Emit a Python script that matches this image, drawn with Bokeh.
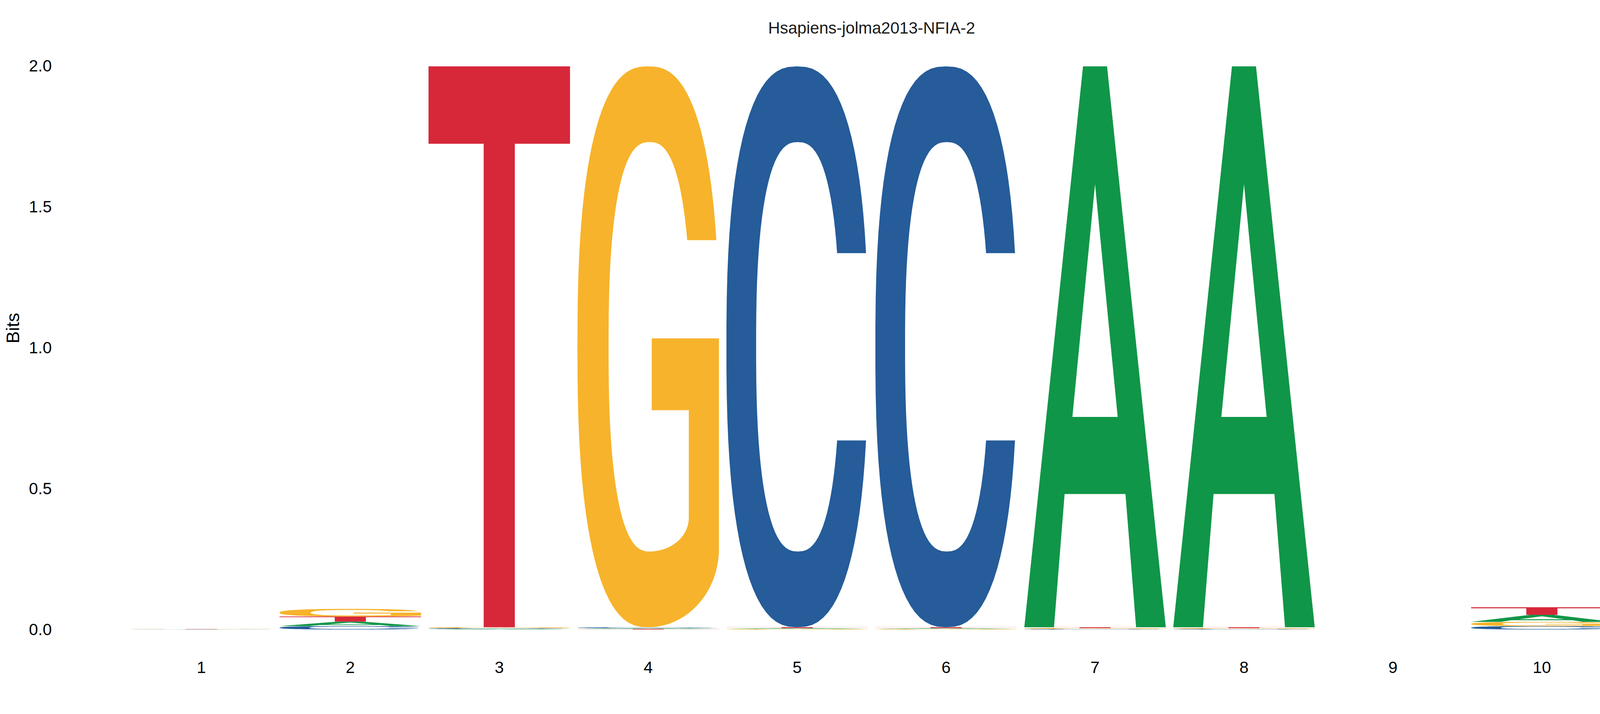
import numpy as np

from bokeh.plotting import figure
from bokeh.models import Range1d, FixedTicker
from bokeh.core.properties import value
from bokeh.embed import file_html
from bokeh.resources import INLINE

# information content (bits) per letter and position
positions = [1, 2, 3, 4, 5, 6, 7, 8, 9, 10]
bits_A = [0.0005, 0.016, 0.002, 0.003, 0.003, 0.003, 1.990, 1.990, 0.0, 0.025]
bits_C = [0.0005, 0.012, 0.003, 0.003, 1.990, 1.990, 0.002, 0.002, 0.0, 0.012]
bits_G = [0.0005, 0.027, 0.003, 1.990, 0.002, 0.002, 0.003, 0.003, 0.0, 0.015]
bits_T = [0.0005, 0.018, 1.990, 0.002, 0.003, 0.003, 0.003, 0.003, 0.0, 0.027]

y_ticks = [0.0, 0.5, 1.0, 1.5, 2.0]
y_tick_labels = ["0.0", "0.5", "1.0", "1.5", "2.0"]
title_text = "Hsapiens-jolma2013-NFIA-2"

colors = {"A": "#109648", "C": "#255C99", "G": "#F7B32B", "T": "#D62839"}
FONT = "Liberation Sans"


# letter outlines in a unit box
def arc(cx, cy, rx, ry, t0, t1, n=2.0, k=80):
    t = np.linspace(t0, t1, k)
    c, s = np.cos(t), np.sin(t)
    x = cx + rx * np.sign(c) * np.abs(c) ** (2 / n)
    y = cy + ry * np.sign(s) * np.abs(s) ** (2 / n)
    return list(x), list(y)


def t_at(cy, ry, yt, n=2.0):
    d = (yt - cy) / ry
    return np.arcsin(np.sign(d) * abs(d) ** (n / 2))


NS = 2.5  # squareness of the round letters


def shape_T():
    xs = [0, 1, 1, 0.61, 0.61, 0.39, 0.39, 0]
    ys = [1, 1, 0.862, 0.862, 0, 0, 0.862, 0.862]
    return [(xs, ys)]


def shape_A():
    xs = [0, 0.21, 0.285, 0.715, 0.79, 1, 0.585, 0.415]
    ys = [0, 0, 0.2375, 0.2375, 0, 0, 1, 1]
    hx = [0.34, 0.66, 0.5]
    hy = [0.375, 0.375, 0.79]
    return [(xs, ys), (hx, hy)]


def shape_C():
    to = t_at(0.5, 0.5, 0.667, NS)
    ox, oy = arc(0.5, 0.5, 0.5, 0.5, to, 2 * np.pi - to, NS)
    ti = t_at(0.5, 0.365, 0.667, NS)
    ix, iy = arc(0.505, 0.5, 0.295, 0.365, 2 * np.pi - ti, ti, NS)
    return [(ox + ix, oy + iy)]


def shape_G():
    to = t_at(0.5, 0.5, 0.69, NS)
    ox, oy = arc(0.5, 0.5, 0.5, 0.5, to, 1.5 * np.pi, NS)
    bx, by = arc(0.5, 0.14, 0.5, 0.14, -0.5 * np.pi, 0, 2.0, 30)
    mx = [1.0, 0.525, 0.525, 0.787, 0.787]
    my = [0.515, 0.515, 0.387, 0.387, 0.195]
    sx, sy = arc(0.51, 0.195, 0.277, 0.06, 0, -0.5 * np.pi, 2.0, 20)
    ti = t_at(0.5, 0.365, 0.69, NS)
    ix, iy = arc(0.51, 0.5, 0.29, 0.365, 1.5 * np.pi, ti, NS)
    return [(ox + bx + mx + sx + ix, oy + by + my + sy + iy)]


shapes = {"A": shape_A(), "C": shape_C(), "G": shape_G(), "T": shape_T()}

W = 0.95
xs, ys, fills = [], [], []
table = {"A": bits_A, "C": bits_C, "G": bits_G, "T": bits_T}
for i, pos in enumerate(positions):
    col = sorted(((table[l][i], l) for l in "ACGT"), key=lambda r: r[0])
    base = 0.0
    for h, l in col:
        if h <= 0:
            continue
        rings_x, rings_y = [], []
        for ux, uy in shapes[l]:
            rings_x.append([pos - W / 2 + W * u for u in ux])
            rings_y.append([base + h * v for v in uy])
        xs.append([rings_x])
        ys.append([rings_y])
        fills.append(colors[l])
        base += h

p = figure(width=4334, height=1813, output_backend="svg", toolbar_location=None,
           x_range=Range1d(0.0428, 10.979), y_range=Range1d(-0.0665, 2.205),
           min_border_left=150, min_border_right=14, min_border_top=20,
           min_border_bottom=153)

p.multi_polygons(xs=xs, ys=ys, fill_color=fills, line_color=None)

# title, centred over the positions
p.text(x=[(positions[0] + positions[-1]) / 2], y=[2.134], text=[title_text],
       text_font=value(FONT), text_font_size="42px", text_color="#1a1a1a",
       text_align="center", text_baseline="alphabetic")

p.xgrid.grid_line_color = None
p.ygrid.grid_line_color = None
p.outline_line_color = None

p.xaxis.ticker = FixedTicker(ticks=positions)
p.yaxis.ticker = FixedTicker(ticks=y_ticks)
p.yaxis.major_label_overrides = dict(zip(y_ticks, y_tick_labels))
p.yaxis.axis_label = "Bits"
p.yaxis.axis_label_text_font = FONT
p.yaxis.axis_label_text_font_size = "47px"
p.yaxis.axis_label_text_font_style = "normal"
p.yaxis.axis_label_text_color = "black"
p.yaxis.axis_label_standoff = 12
p.yaxis.major_label_standoff = 18
p.xaxis.major_label_standoff = 34

for ax in (p.xaxis, p.yaxis):
    ax.axis_line_color = None
    ax.major_tick_line_color = None
    ax.minor_tick_line_color = None
    ax.major_tick_out = 0
    ax.major_tick_in = 0
    ax.major_label_text_font = FONT
    ax.major_label_text_font_size = "42px"
    ax.major_label_text_color = "black"

open("out.html", "w").write(file_html(p, INLINE))
